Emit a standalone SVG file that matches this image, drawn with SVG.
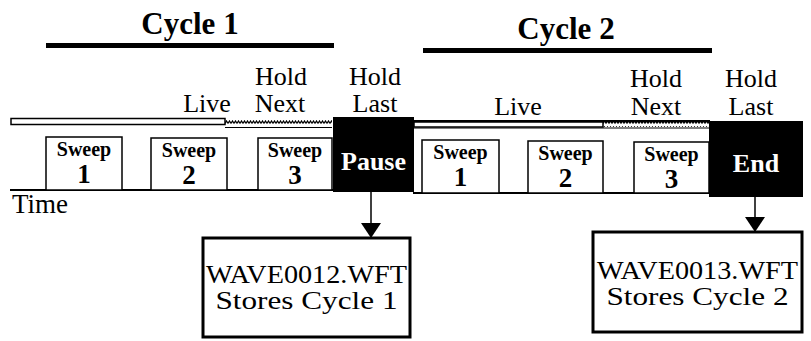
<svg xmlns="http://www.w3.org/2000/svg" width="811" height="341" viewBox="0 0 811 341">
<style>
.t{font-family:"Liberation Serif","Times New Roman",serif;fill:#000}
.title{font-size:31px;font-weight:bold}
.lbl{font-size:26px}
.sw{font-size:20px;font-weight:bold}
.num{font-size:27px;font-weight:bold}
.blk{font-size:26px;font-weight:bold;fill:#fff}
.file{font-size:25px}
.box{fill:#fff;stroke:#000;stroke-width:1.5}
.fbox{fill:#fff;stroke:#000;stroke-width:3}
.bar{fill:#fff;stroke:#000;stroke-width:1.5}
.conn{stroke:#000;stroke-width:1.5;fill:none}
</style>
<defs>
<pattern id="wave" width="3" height="6" patternUnits="userSpaceOnUse">
<path d="M0 3.5 L1.5 1 L3 3.5" fill="none" stroke="#000" stroke-width="1.2"/>
</pattern>
<marker id="ah" markerWidth="15" markerHeight="20" refX="15" refY="10" orient="auto" markerUnits="userSpaceOnUse" viewBox="0 0 15 20">
<path d="M0 0 L15 10 L0 20 Z" fill="#000"/>
</marker>
</defs>
<rect width="811" height="341" fill="#fff"/>

<g id="cycle1-title">
<text class="t title" x="190" y="34" text-anchor="middle">Cycle 1</text>
<rect x="46" y="43" width="288" height="5" fill="#000"/>
</g>
<g id="cycle2-title">
<text class="t title" x="566" y="39" text-anchor="middle">Cycle 2</text>
<rect x="423" y="48" width="289" height="5" fill="#000"/>
</g>

<g id="labels1">
<text class="t lbl" x="207" y="112" text-anchor="middle">Live</text>
<text class="t lbl" x="281" y="85" text-anchor="middle">Hold</text>
<text class="t lbl" x="280" y="112" text-anchor="middle">Next</text>
<text class="t lbl" x="375" y="85" text-anchor="middle">Hold</text>
<text class="t lbl" x="375" y="112" text-anchor="middle">Last</text>
</g>
<g id="labels2">
<text class="t lbl" x="518" y="115" text-anchor="middle">Live</text>
<text class="t lbl" x="656" y="87" text-anchor="middle">Hold</text>
<text class="t lbl" x="656" y="115" text-anchor="middle">Next</text>
<text class="t lbl" x="751" y="87" text-anchor="middle">Hold</text>
<text class="t lbl" x="751" y="115" text-anchor="middle">Last</text>
</g>

<g id="timeline1">
<rect class="bar" x="11" y="118.5" width="214" height="6"/>
<rect x="225" y="118" width="107" height="6" fill="url(#wave)"/>
<line x1="225" y1="127.5" x2="332" y2="127.5" stroke="#000" stroke-width="1"/>
<line x1="10" y1="190" x2="333" y2="190" stroke="#000" stroke-width="2"/>
</g>
<g id="timeline2">
<line x1="413" y1="121" x2="710" y2="121" stroke="#000" stroke-width="2"/>
<rect class="bar" x="414" y="122" width="189" height="5"/>
<rect x="603" y="121" width="106" height="6" fill="url(#wave)"/>
<line x1="414" y1="128" x2="709" y2="128" stroke="#000" stroke-width="1"/>
<line x1="413" y1="193" x2="710" y2="193" stroke="#000" stroke-width="2"/>
</g>

<g id="sweep1-1">
<rect class="box" x="46" y="137" width="76" height="53"/>
<text class="t sw" x="84" y="156" text-anchor="middle">Sweep</text>
<text class="t num" x="84" y="183" text-anchor="middle">1</text>
</g>
<g id="sweep1-2">
<rect class="box" x="151" y="138" width="76" height="52"/>
<text class="t sw" x="189" y="157" text-anchor="middle">Sweep</text>
<text class="t num" x="189" y="184" text-anchor="middle">2</text>
</g>
<g id="sweep1-3">
<rect class="box" x="258" y="138" width="74" height="52"/>
<text class="t sw" x="295" y="157" text-anchor="middle">Sweep</text>
<text class="t num" x="295" y="184" text-anchor="middle">3</text>
</g>
<g id="pause">
<rect x="333" y="117" width="81" height="75" fill="#000"/>
<text class="t blk" x="373.5" y="170" text-anchor="middle">Pause</text>
</g>

<g id="sweep2-1">
<rect class="box" x="422" y="140" width="77" height="53"/>
<text class="t sw" x="460.5" y="159" text-anchor="middle">Sweep</text>
<text class="t num" x="460.5" y="186" text-anchor="middle">1</text>
</g>
<g id="sweep2-2">
<rect class="box" x="528" y="141" width="75" height="52"/>
<text class="t sw" x="565.5" y="160" text-anchor="middle">Sweep</text>
<text class="t num" x="565.5" y="187" text-anchor="middle">2</text>
</g>
<g id="sweep2-3">
<rect class="box" x="634" y="142" width="75" height="51"/>
<text class="t sw" x="671.5" y="161" text-anchor="middle">Sweep</text>
<text class="t num" x="671.5" y="188" text-anchor="middle">3</text>
</g>
<g id="end">
<rect x="709" y="121" width="94" height="76" fill="#000"/>
<text class="t blk" x="756" y="172" text-anchor="middle">End</text>
</g>

<g id="time">
<text class="t" x="12" y="213" font-size="27">Time</text>
</g>

<g id="file1">
<rect class="fbox" x="203" y="238" width="207" height="99"/>
<text class="t file" x="306.5" y="283" text-anchor="middle" textLength="201" lengthAdjust="spacingAndGlyphs">WAVE0012.WFT</text>
<text class="t file" x="306.5" y="309" text-anchor="middle" textLength="182" lengthAdjust="spacingAndGlyphs">Stores Cycle 1</text>
</g>
<g id="file2">
<rect class="fbox" x="593" y="232" width="209" height="100"/>
<text class="t file" x="697.5" y="279" text-anchor="middle" textLength="201" lengthAdjust="spacingAndGlyphs">WAVE0013.WFT</text>
<text class="t file" x="697.5" y="305" text-anchor="middle" textLength="182" lengthAdjust="spacingAndGlyphs">Stores Cycle 2</text>
</g>

<g id="connectors">
<line class="conn" x1="371" y1="192" x2="371" y2="238" marker-end="url(#ah)"/>
<line class="conn" x1="755" y1="197" x2="755" y2="232" marker-end="url(#ah)"/>
</g>
</svg>
